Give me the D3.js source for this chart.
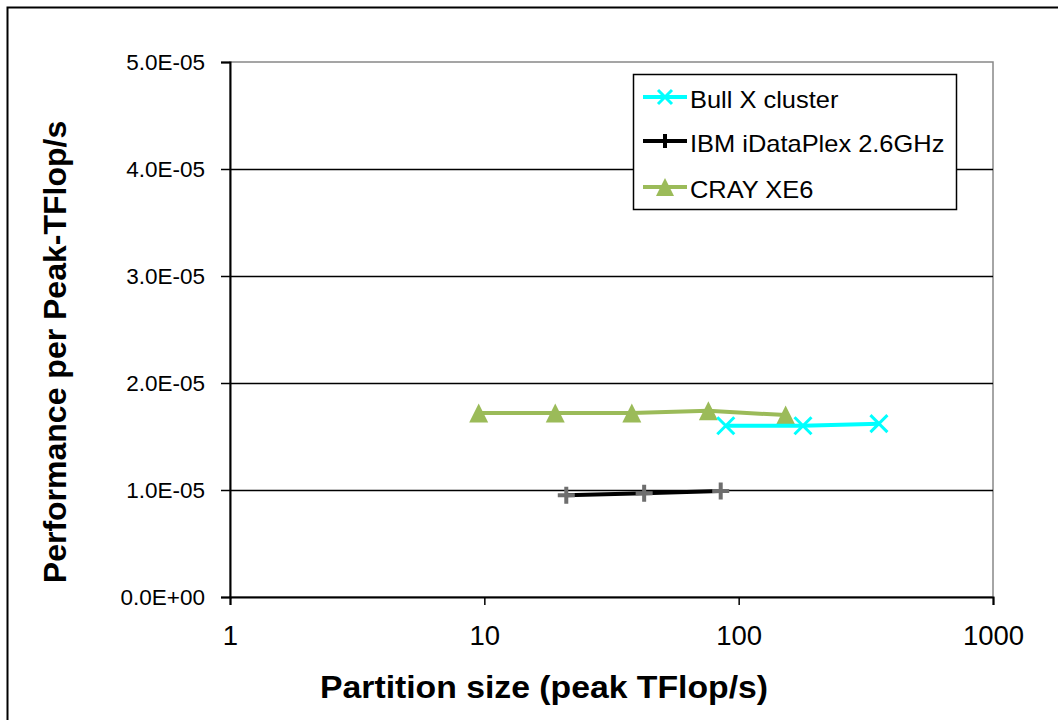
<!DOCTYPE html>
<html>
<head>
<meta charset="utf-8">
<script src="https://cdn.jsdelivr.net/npm/d3@7"></script>
<style>
  body { margin: 0; background: #fff; }
  svg { font-family: Arial, "Liberation Sans", sans-serif; }
</style>
</head>
<body>
<div id="chart"></div>
<script>
// data
var bullX = [89, 179, 356];
var bullY = [1.60e-5, 1.60e-5, 1.62e-5];
var ibmX = [21, 42.5, 85];
var ibmY = [0.95e-5, 0.97e-5, 0.99e-5];
var crayX = [9.5, 19, 38, 76, 153];
var crayY = [1.72e-5, 1.72e-5, 1.72e-5, 1.74e-5, 1.70e-5];
var seriesNames = ["Bull X cluster", "IBM iDataPlex 2.6GHz", "CRAY XE6"];
var yTicks = [0, 1e-5, 2e-5, 3e-5, 4e-5, 5e-5];
var xTicks = [1, 10, 100, 1000];

var width = 1058, height = 720;
var margin = {top: 62, right: 65, bottom: 123, left: 230};
var fontStack = "Arial, 'Liberation Sans', sans-serif";

var svg = d3.select("#chart").append("svg")
  .attr("width", width)
  .attr("height", height);

// outer frame (only left/top visible in the picture)
svg.append("rect")
  .attr("x", 7.5).attr("y", 7.5)
  .attr("width", width + 20).attr("height", height + 20)
  .attr("fill", "none").attr("stroke", "#000").attr("stroke-width", 2);

var x = d3.scaleLog().domain([1, 1000]).range([margin.left, width - margin.right]);
var y = d3.scaleLinear().domain([0, 5e-5]).range([height - margin.bottom, margin.top]);

// plot border, gray
svg.append("rect")
  .attr("x", x(1)).attr("y", y(5e-5))
  .attr("width", x(1000) - x(1)).attr("height", y(0) - y(5e-5))
  .attr("fill", "none").attr("stroke", "#888").attr("stroke-width", 1.5);

// gridlines
svg.selectAll(".grid")
  .data(yTicks.slice(1, 5))
  .enter().append("line")
  .attr("x1", x(1)).attr("x2", x(1000))
  .attr("y1", function(d) { return Math.round(y(d)) + 0.5; })
  .attr("y2", function(d) { return Math.round(y(d)) + 0.5; })
  .attr("stroke", "#000").attr("stroke-width", 1.5);

// y axis
var yAxis = svg.append("g")
  .attr("transform", "translate(" + x(1) + ",0)")
  .call(d3.axisLeft(y).tickValues(yTicks).tickSize(9).tickPadding(16)
    .tickFormat(function(d) { return d3.format(".1e")(d).replace("e-", "E-0").replace("e+", "E+0"); }));
yAxis.select(".domain").attr("stroke", "#000").attr("stroke-width", 2);
yAxis.selectAll("line").attr("stroke-width", 1.5);
yAxis.selectAll("text").attr("font-size", 22.5).attr("fill", "#000")
  .attr("font-family", fontStack);

// x axis
var xAxis = svg.append("g")
  .attr("transform", "translate(0," + y(0) + ")")
  .call(d3.axisBottom(x).tickValues(xTicks).tickSize(8).tickPadding(20)
    .tickFormat(d3.format("d")));
xAxis.select(".domain").attr("stroke", "#000").attr("stroke-width", 2);
xAxis.selectAll("line").attr("stroke-width", 1.5);
xAxis.selectAll("text").attr("font-size", 27.5).attr("fill", "#000")
  .attr("font-family", fontStack);

// axis titles
svg.append("text")
  .attr("x", 320).attr("y", 698)
  .attr("font-size", 32).attr("font-weight", "bold")
  .attr("textLength", 448).attr("lengthAdjust", "spacingAndGlyphs")
  .text("Partition size (peak TFlop/s)");
svg.append("text")
  .attr("transform", "translate(66,352) rotate(-90)")
  .attr("text-anchor", "middle").attr("font-size", 32).attr("font-weight", "bold")
  .text("Performance per Peak-TFlop/s");

var line = d3.line()
  .x(function(d) { return x(d[0]); })
  .y(function(d) { return y(d[1]); });

function pairs(xs, ys) {
  return xs.map(function(v, i) { return [v, ys[i]]; });
}

function drawX(g, cx, cy, s, color) {
  g.append("path")
    .attr("d", "M" + (cx - s) + "," + (cy - s) + "L" + (cx + s) + "," + (cy + s) +
      "M" + (cx - s) + "," + (cy + s) + "L" + (cx + s) + "," + (cy - s))
    .attr("stroke", color).attr("stroke-width", 3).attr("fill", "none");
}
function drawPlus(g, cx, cy, s, color) {
  g.append("path")
    .attr("d", "M" + (cx - s) + "," + cy + "L" + (cx + s) + "," + cy +
      "M" + cx + "," + (cy - s) + "L" + cx + "," + (cy + s))
    .attr("stroke", color).attr("stroke-width", 4).attr("fill", "none");
}
function drawTri(g, cx, cy, s, color) {
  g.append("path")
    .attr("d", "M" + cx + "," + (cy - s) + "L" + (cx + s) + "," + (cy + s) +
      "L" + (cx - s) + "," + (cy + s) + "Z")
    .attr("fill", color);
}

var plot = svg.append("g");

// CRAY XE6
plot.append("path").datum(pairs(crayX, crayY)).attr("d", line)
  .attr("fill", "none").attr("stroke", "#9BBB59").attr("stroke-width", 4);
crayX.forEach(function(v, i) { drawTri(plot, x(v), y(crayY[i]), 9.5, "#9BBB59"); });

// Bull X cluster
plot.append("path").datum(pairs(bullX, bullY)).attr("d", line)
  .attr("fill", "none").attr("stroke", "#00FFFF").attr("stroke-width", 4);
bullX.forEach(function(v, i) { drawX(plot, x(v), y(bullY[i]), 8.5, "#00FFFF"); });

// IBM iDataPlex
plot.append("path").datum(pairs(ibmX, ibmY)).attr("d", line)
  .attr("fill", "none").attr("stroke", "#000").attr("stroke-width", 4);
ibmX.forEach(function(v, i) { drawPlus(plot, x(v), y(ibmY[i]), 8.5, "#6e6e6e"); });

// legend
var lg = svg.append("g").attr("transform", "translate(633,74)");
lg.append("rect").attr("x", 0.5).attr("y", 0.5).attr("width", 323).attr("height", 135)
  .attr("fill", "#fff").attr("stroke", "#000").attr("stroke-width", 1.5);
var legColors = ["#00FFFF", "#000", "#9BBB59"];
var legY = [23, 67, 113];
seriesNames.forEach(function(name, i) {
  var cy = legY[i];
  lg.append("line").attr("x1", 10).attr("x2", 54).attr("y1", cy).attr("y2", cy)
    .attr("stroke", legColors[i]).attr("stroke-width", 4);
  if (i == 0) drawX(lg, 32, cy, 7, "#00FFFF");
  if (i == 1) drawPlus(lg, 32, cy, 7, "#000");
  if (i == 2) drawTri(lg, 32, cy, 9, "#9BBB59");
  lg.append("text")
    .attr("transform", "translate(57," + (cy + 11) + ") scale(1.06,1)")
    .attr("font-size", 24).attr("fill", "#000").text(name);
});
</script>
</body>
</html>
